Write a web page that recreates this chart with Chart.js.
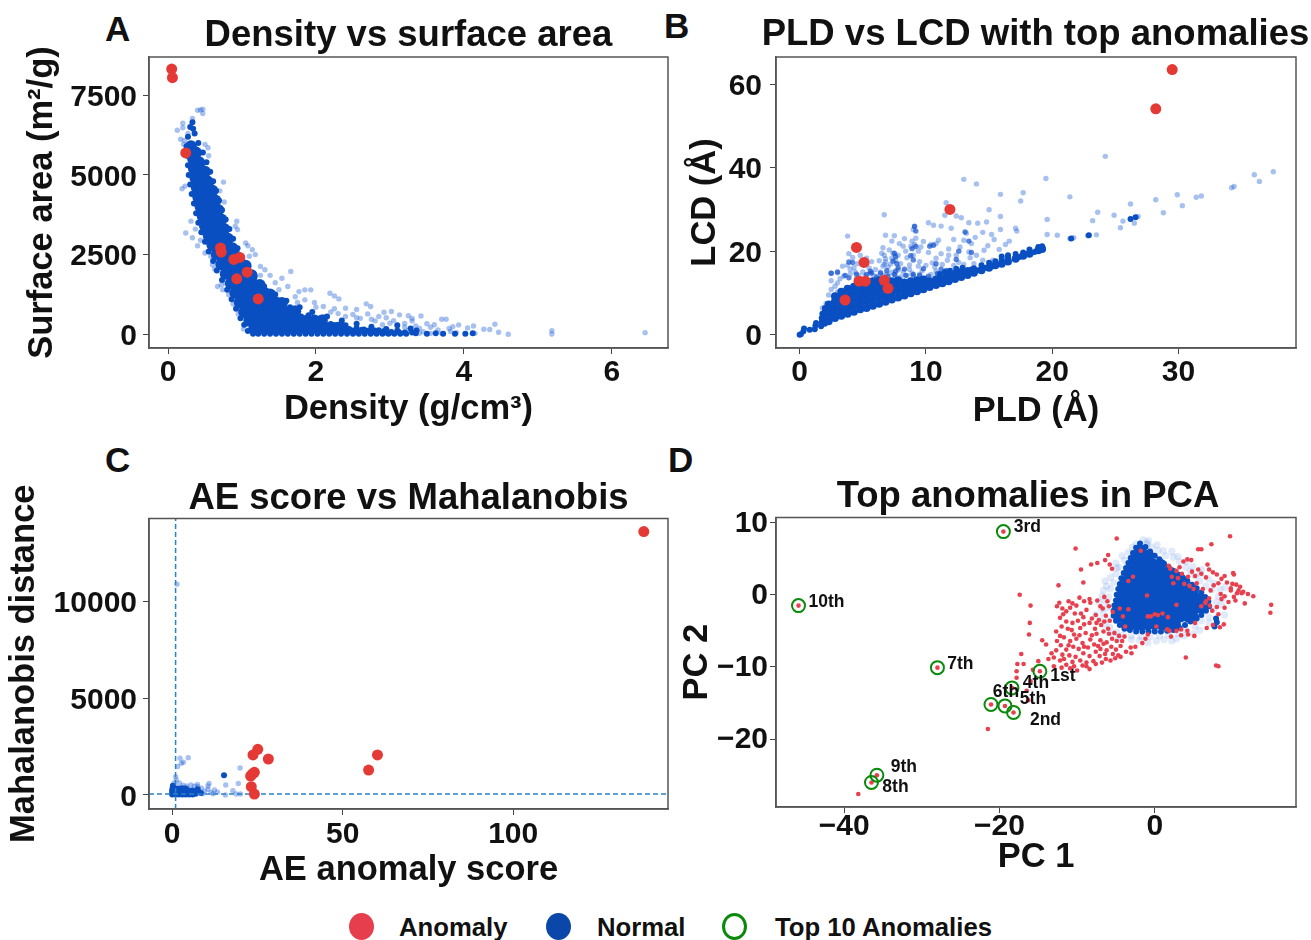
<!DOCTYPE html>
<html lang="en">
<head>
<meta charset="UTF-8">
<title>Anomaly detection panels</title>
<script src="https://cdn.jsdelivr.net/npm/chart.js"></script>
<style>
  html, body { margin: 0; padding: 0; background: #fff; overflow: hidden; }
  body { position: relative; width: 1311px; height: 940px; font-family: "Liberation Sans", Arial, sans-serif; font-weight: bold; color: #111; }
  canvas { position: absolute; }
  .letter { position: absolute; font-size: 35px; line-height: 35px; }
  .key { position: absolute; top: 913px; height: 26px; font-size: 25.7px; line-height: 28px; white-space: nowrap; }
  .dot { position: absolute; top: 913px; width: 25px; height: 27px; border-radius: 50%; box-sizing: border-box; }
</style>
</head>
<body>
<div class="letter" style="left:105px;top:11px">A</div>
<div class="letter" style="left:664px;top:8px">B</div>
<div class="letter" style="left:105px;top:442px">C</div>
<div class="letter" style="left:668px;top:442px">D</div>

<canvas id="panelA"></canvas>
<canvas id="panelB"></canvas>
<canvas id="panelC"></canvas>
<canvas id="panelD"></canvas>

<div class="dot" style="left:349px;background:#e63e4c"></div>
<div class="key" style="left:399px">Anomaly</div>
<div class="dot" style="left:546px;background:#0a47a8"></div>
<div class="key" style="left:597px">Normal</div>
<div class="dot" style="left:722px;border:3px solid #0a8a0a"></div>
<div class="key" style="left:775px">Top 10 Anomalies</div>

<script>
  // Panel A: density (g/cm3), surface area (m2/g)
  const anomalyA = [[.05,8320],[.06,8050],[.24,5690],[.71,2710],[.72,2580],[.89,2350],[.97,2410],[1.07,1950],[.93,1740],[1.22,1110]];
  const denseA = [
    [.31,5900],[.38,5700],[.34,5500],[.42,5400],[.35,5200],[.43,5200],[.5,5100],[.37,4900],[.45,4900],[.53,4800],
    [.39,4600],[.47,4600],[.55,4600],[.6,4500],[.41,4300],[.5,4300],[.58,4300],[.64,4200],[.44,4000],[.52,4000],[.6,4000],[.68,3900],
    [.47,3700],[.55,3700],[.63,3700],[.72,3600],[.5,3400],[.58,3400],[.67,3400],[.76,3300],[.55,3100],[.63,3100],[.72,3100],[.81,3000],
    [.6,2800],[.68,2800],[.77,2800],[.87,2700],[.66,2500],[.74,2500],[.83,2500],[.92,2450],[.72,2200],[.8,2200],[.9,2200],[.99,2200],[1.05,2150],
    [.78,1900],[.87,1900],[.97,1900],[1.07,1900],[1.13,1850],[.85,1600],[.94,1600],[1.04,1600],[1.14,1600],[1.24,1550],
    [.91,1300],[1,1300],[1.1,1300],[1.2,1300],[1.3,1300],[1.38,1250],[.97,1000],[1.06,1000],[1.16,1000],[1.26,1000],[1.36,1000],[1.46,1000],[1.54,980],
    [1.03,700],[1.12,700],[1.22,700],[1.32,700],[1.42,700],[1.52,700],[1.62,700],[1.72,720],[1.1,430],[1.18,430],[1.28,430],[1.38,430],[1.48,430],[1.58,430],[1.68,430],[1.78,430],[1.88,430],[1.98,430],[2.08,430],
    [1.17,200],[1.25,200],[1.35,200],[1.45,200],[1.55,200],[1.65,200],[1.75,200],[1.85,200],[1.95,200],[2.05,200],[2.15,200],[2.25,200],[2.35,200]
  ];
  const edgeA = [
    [.33,6650],[.34,6450],[.3,6500],[.27,6200],[.25,5900],[.26,5600],[.27,5300],[.28,5000],[.3,4700],[.32,4400],[.35,4100],[.38,3800],[.41,3500],[.45,3200],[.5,2900],[.55,2600],[.61,2300],[.66,2000],[.73,1700],[.8,1400],[.86,1100],[.92,800],[.98,500],[1.03,300],[1.08,100],
    [.36,6300],[.41,6000],[.47,5700],[.52,5400],[.57,5100],[.61,4800],[.65,4500],[.69,4200],[.73,3900],[.78,3600],[.83,3300],[.88,3000],[.94,2700],[1,2400],[1.08,2100],[1.17,1800],[1.3,1500],[1.45,1250],[1.6,1050],[1.78,850],[1.95,700],[2.15,560],[2.35,430],[2.55,330],[2.75,240],[2.95,170],[3.1,110],[3.3,60],
    [1.15,20],[1.22,20],[1.3,20],[1.38,20],[1.46,20],[1.54,20],[1.62,20],[1.7,20],[1.78,20],[1.86,20],[1.94,20],[2.02,20],[2.1,20],[2.18,20],[2.26,20],[2.34,20],[2.42,20],[2.5,20],[2.58,20],[2.66,20],[2.74,20],[2.82,20],[2.9,20],[2.98,20],[3.06,20],[3.14,20],[3.22,20],
    [1.15,80],[1.3,90],[1.45,90],[1.6,90],[1.75,90],[1.9,90],[2.05,90],[2.2,90],[2.35,90],[2.45,100],[2.55,70],[2.65,90],[2.75,60],[2.85,80],[2.95,60],[2.5,120],[2.62,140],[2.7,110],[2.8,120],[2.92,100],[3.02,70],[3.12,70],[3.2,60],
    [2.45,170],[2.55,200],[2.65,150],[2.75,170],[2.85,130],[2.2,320],[2.3,300],[2.4,280],[2.1,530],[1.9,600],[1.8,560],[1.65,850],[1.75,760],[3.35,30],[3.5,20],[3.62,30],[3.72,20],[3.88,20],[4.02,20],[4.12,30],[3.1,280],[3.28,180],[3.36,120]
  ];
  const sparseA = [
    [.44,7040],[.47,7060],[.47,6925],[.4,7030],[.33,6770],[.2,6620],[.2,6480],[.125,6400],[.27,6300],[.17,6120],[.22,6080],[.21,5960],[.5,5960],[.54,5855],[.48,5700],[.55,5600],[.19,4565],[.23,4650],[.75,4775],[.7,4500],[.76,4150],
    [.24,3180],[.33,3030],[.4,2780],[.31,3550],[.37,3300],[.44,2950],[.5,2550],[.6,2180],[.63,2050],[.67,1500],[.74,1395],[.78,1600],[.93,3550],[.91,3390],[.94,3285],[1.05,2865],[1.08,2780],[1.14,2655],[1.18,2500],
    [1.25,2130],[1.31,2025],[1.38,1850],[1.66,1970],[1.54,1760],[1.45,1620],[1.62,1500],[1.77,1340],[1.85,1395],[1.93,1395],[1.72,1180],[1.85,1080],[1.98,1000],[2.19,1290],[2.25,1200],[2.31,1110],
    [2.1,870],[2.25,800],[2.4,820],[2.55,780],[2.68,955],[2.74,870],[2.5,620],[2.7,640],[2.85,560],[3.02,715],[2.92,690],[3.13,610],[3.25,580],[3.42,577],[3.05,430],[3.2,340],[3.3,420],[3.35,260],
    [3.1,180],[3.25,120],[3.45,80],[3.55,220],[3.65,140],[3.7,472],[3.76,472],[3.6,300],[3.82,90],[3.9,50],[3.93,294],[3.85,240],[4.05,200],[4.13,262],[4.15,30],[4.27,157],[4.35,150],[4.42,315],[4.47,63],[4.6,0],
    [5.19,115],[5.19,10],[6.45,52],[2.9,300],[3,100],[3,30],[3.15,40],[3.4,30],[3.55,30],[3.7,30],[1.1,2450],[1.25,1850],[1.5,1400],[1.75,1000],[2,850],[2.3,650],[2.6,500],[2.8,420],[3,350],[3.2,220],[3.4,180],
    [3.5,330],[3.8,180],[3.3,500],[2.95,520],[2.75,470],[2.55,520],[2.4,560],[2.2,700],[1.1,130],[1.02,170],[1.08,300],[.95,640],[.88,950],[.82,1240],[.72,1550],[.58,2450]
  ];

  // Panel B: PLD, LCD (angstrom)
  const anomalyB = [[29.5,63.5],[28.2,54.1],[11.9,30],[4.5,20.9],[5.1,17.3],[4.7,12.8],[5.2,12.8],[6.7,13],[7,11.1],[3.6,8.3]];
  const denseB = [
    [2.3,3.2],[2.3,4.5],[2.3,6],[2.3,7.2],[2.8,4],[2.8,5],[2.8,6.5],[2.8,8],[2.8,9.2],[3.3,4.5],[3.3,6],[3.3,7.5],[3.3,9],[3.3,10.3],
    [3.8,5],[3.8,6.5],[3.8,8],[3.8,9.5],[3.8,11],[4.3,5.5],[4.3,7],[4.3,8.5],[4.3,10],[4.3,11.5],[4.8,6.1],[4.8,7.5],[4.8,9],[4.8,10.5],[4.8,12],
    [5.3,6.4],[5.3,8],[5.3,9.5],[5.3,11],[5.3,12.5],[5.8,6.9],[5.8,8.4],[5.8,10],[5.8,11.5],[5.8,12.8],[6.3,7.4],[6.3,9],[6.3,10.5],[6.3,12],[6.3,13],
    [6.8,7.9],[6.8,9.4],[6.8,11],[6.8,12.5],[7.3,8.4],[7.3,10],[7.3,11.5],[7.3,12.8],[7.8,8.9],[7.8,10.5],[7.8,12],[7.8,13],
    [8.3,9.4],[8.3,11],[8.3,12.5],[8.8,9.9],[8.8,11.4],[8.8,12.8],[9.3,10.4],[9.3,11.8],[9.3,13],[9.8,10.9],[9.8,12.2],[9.8,13.2],[10.3,11.4],[10.3,12.8],[10.8,11.9],[10.8,13.2],
    [11.3,12.3],[11.3,13.5],[11.8,12.8],[11.8,14],[12.3,13.3],[12.3,14.5],[12.8,13.8],[12.8,15],[13.3,14.3],[13.8,14.8],[14.4,15.4],[15,16],[15.5,16.6],[16,17],[16.5,17.5],[17.1,18.2],[17.7,18.9],[18.2,19.4],[18.9,20.2],[19.2,20.5]
  ];
  const edgeB = [
    [0,0],[.1,.1],[.3,.8],[.35,1.5],[.8,1.2],[1.2,1.3],[1.25,2.2],[1.3,2.8],[1.7,2],[1.75,3],[1.75,4],[1.8,5],[2,2.6],[2,3.6],[2,4.6],[2,5.6],[2,6.4],[13.3,15.5],[13.6,15.6],[13.8,15.9],[14.1,15.4],[14.4,16.6],[14.7,16],[15,17.2],[15.3,16.4],[15.5,17.6],[16,18],[16,18.7],[16.5,18.4],[16.5,19],
    [17.1,19.3],[17.4,18.6],[17.7,19.7],[18.2,20.4],[18.6,19.8],[18.9,21],[19.2,21.2],[21.5,23],[22.9,23.8],[26.2,27.7],[26.6,28.1],[11.1,14.5],[11.5,15],[11.9,15.3],[12.4,15.8],[12.9,16]
  ];
  const midB = [
    [7.5,19.5],[7.6,18.7],[7.4,17.6],[7.7,17],[7.8,16],[7.6,15.2],[7.5,14.4],[9.1,25.9],[9.2,24.8],[8.9,20.6],[9.2,21.1],[8.8,18.9],[9,17.9],[10.3,21.2],[10.6,21.4],[3.9,17.4],[4.2,17.3],[2.5,14.7],[3,15],[3.6,14.2],[3.9,13.6],
    [5.3,14.4],[5.7,14.8],[6.4,14.7],[6.1,13.8],[7,14],[8.4,14.2],[9,14.4],[9.5,14.2],[10.2,14],[10.9,14.6],[11.6,15.4],[13.1,24.6],[13.4,22.4],[13.6,19.7],[12.6,20],[12.4,18],[10.8,17],[11.2,15.7],[9.8,15.8],[8.3,15.7],[6.9,15.3],[5.6,15.2],[4.5,14.5]
  ];
  const sparseB = [
    [24.2,42.7],[37.5,39],[36,38.3],[36.4,36.7],[34.4,35.5],[34.2,35.2],[31.8,33.2],[31.4,32.9],[29.9,33.5],[30.3,30.9],[28.2,32.3],[28.8,29.2],[26.2,31.3],[23.6,29.3],[24.9,28.6],
    [23.2,27.3],[25.6,27.2],[25.4,25.6],[26.5,26.7],[26.8,28.3],[22.8,23.7],[23.5,23.9],[21.7,23.2],[21.4,23],[20.4,23.8],[19.6,24],[19.6,27.6],[21.4,33],[19.5,37.4],[17.7,34],[17.5,32],
    [15.9,33.6],[14,36.1],[13,37.2],[15,29.9],[15.9,28.3],[6.7,28.7],[3.8,23.6],[11.6,31.6],[11.5,28.6],[12.4,28.4],[12.8,28],[13.4,26.8],[14.1,26.7],[14.8,27],[17.1,25.5],[17.2,24.8],[15.9,25.2],
    [15.2,24],[14.5,24.5],[13.2,24.3],[13,22.6],[12,25.5],[11.2,26],[10.6,26.2],[10.2,26.8],[9.1,26],[9,25.2],[8.3,23],[9.2,23.1],[9.8,22.3],[10.4,21.6],[11,22.6],[12.2,22.8],[13.6,21.8],
    [16.3,21.6],[16.6,22.4],[15.8,20.4],[14.6,20.2],[13.4,19.8],[11.8,20.5],[11.2,19.4],[10.2,19.7],[9.4,20],[8.8,21.2],[7.9,21.8],[7.3,22.4],[6.8,23.8],[7.5,23.7],[7.1,20.3],[6.6,20.8],
    [6.5,19.5],[7.8,19],[7.3,18.3],[6.8,18.2],[6.3,17.7],[8.5,18.4],[9.5,17.5],[10.5,17.2],[11.3,16.8],[12.6,17.3],[13.5,18.4],[14.5,17.8],[15.3,17.8],[4.8,19],[3.9,19.4],[3.4,16.4],[3.8,16.6],
    [4.3,16.1],[5.5,16],[6,15.6],[7,16.2],[7.8,15.5],[8.7,15.6],[9.7,15.3],[10.8,15.2],[12,15.4],[2.5,14.7],[3,14.8],[2.5,12.9],[2.8,11.6],[3.5,14],[4,14.5],[4.5,13.6],[5.6,14.6],[6.9,14.5],
    [8,13.8],[9,14],[10,13.6],[11,14],[2.3,9.5],[2.5,10.8],[3,10.2],[2.1,7.5],[1.8,6.4],[8.4,20],[9,19],[10.8,18.3],[12.4,19],[5,15],[5.7,17.5],[6.6,16.4],[8,17],[8.7,16.7],
    [6.7,19],[6.8,17.4],[7.2,16.9],[7.4,19.5],[7.6,17.8],[6.4,15],[6.6,14.2],[7.3,14.9],[8.2,15],[8.9,14.7],[9.4,16.4],[10,16.6],[10.7,16.2],[11.7,17.8],[12.2,16.6],[13,16.8],[13.8,17],[9.1,21.6],[9.6,21],[8.9,22.4],[8.2,21.2],
    [6.7,16.8],[5.9,14.1],[4.7,14.1],[4,15.6],[3.2,13.4],[3,12.4],[4.4,15],[5.2,14],[7.6,14.1],[8.5,14.2],[9.5,14.5],[10.4,14.4],[11.4,14.8],[5.3,18.3],[4.6,17],[4.2,18.5],[10.8,21.8],[11.8,19],[12.7,21],[14,19],[14.9,21.3],[15.4,22.8],[13.9,23.3]
  ];

  // Panel C: AE anomaly score, Mahalanobis distance
  const anomalyC = [[138.3,13620],[60.2,2070],[57.6,1290],[25.1,2360],[23.7,2070],[28.2,1860],[24.1,1170],[23.5,1080],[23,980],[23.2,430],[24.1,50]];
  const denseC = [
    [0,20],[0,120],[0,230],[.1,340],[.2,480],[1,20],[1,120],[1,230],[1,350],[2,20],[2,120],[2,230],[2,340],[3,20],[3,120],[3,230],[3,350],
    [4,20],[4,120],[4,230],[4,330],[5,20],[5,120],[5,230],[6,20],[6,120],[6,230],[6.9,60],[7,180],[7.5,300],[8.4,100],[15.2,1017]
  ];
  const sparseC = [
    [1.4,10900],[2.3,1900],[4.7,1930],[3.3,1690],[2.7,1640],[1.6,1470],[1,950],[19.9,1397],[15.7,517],[19.4,600],[17.8,224],[15.6,0],[18.8,52],[20,52],[12.4,259],[13.3,150],[10.8,600],
    [10.5,465],[8.6,345],[7.4,550],[5.5,517],[3.2,500],[4.3,470],[6.5,450],[7.5,430],[9.5,200],[10.5,300],[11.4,130],[12,60],[9,60],[2.1,620],[.5,610],[1.2,780]
  ];
  const thresholdScore = [[1,-724],[1,14293]];
  const thresholdDist = [[-6.8,50],[145.4,50]];

  // Panel D: PC 1, PC 2
  const top10 = [[-14.8,-10.6],[-18.2,-16.3],[-19.5,8.75],[-18.4,-12.9],[-19.3,-15.4],[-21.1,-15.2],[-28,-10.1],[-36.5,-26],[-35.8,-25],[-45.9,-1.5]];
  const top10Labels = ['1st','2nd','3rd','4th','5th','6th','7th','8th','9th','10th'];
  const anomalyD = [
    [-4.9,7.8],[9.7,8.1],[-10.2,6.4],[7.3,7],[6,6.3],[5.6,6.3],[-1.8,6.1],[-9.5,3.5],[-12.4,1.3],[-17.4,0],[-16,-1.5],[-16.1,-3.9],[-16.2,-5.5],[-14.5,-6.3],[-14,-6.9],[-17.2,-8.2],
    [-17.7,-9.6],[-16.9,-9.6],[-17.8,-10.6],[-17.8,-11.5],[-16.5,-13.3],[-21.5,-18.6],[-38.2,-27.6],[4,-8.7],[7.9,-9.8],[8.2,-9.9],[15,-1.4],[14.9,-2.5],[12.7,-.2],[12,.1],[11.6,-1.2],
    [-14.8,-10.6],[-18.2,-16.3],[-19.5,8.75],[-18.4,-12.9],[-19.3,-15.4],[-21.1,-15.2],[-28,-10.1],[-36.5,-26],[-35.8,-25],[-45.9,-1.5],
    [-7.4,4.4],[-6.4,4.8],[-6,5.5],[-5.8,4.2],[-5.5,3.6],[-8.2,4.2],[-9.2,1.7],[-12.3,-1.1],[-11.9,-1.9],[-11.8,-2.7],[-12.2,-3.2],[-11.1,-.9],[-10.6,-1.2],[-9.7,-.4],[-9.1,-.9],[-8.4,-.6],[-10.3,-2.6],[-9.2,-3.1],
    [-9.9,-3.6],[-8.8,-2.1],[-8.1,-3.3],[-7.6,-2.8],[-8.4,-3.9],[-7.2,-3.5],[-6.7,-1.9],[-6.1,-.9],[-6.5,-.3],[-5.9,-1.6],[-5.4,-2.4],[-6.3,-2.9],[-5.8,-3.6],[-6.9,-4.2],[-7.7,-4.7],[-8.9,-5.3],[-9.6,-4.6],
    [-10.4,-5.5],[-11.2,-4.7],[-11.7,-5.9],[-10.9,-6.4],[-10.1,-6.1],[-9.3,-6.7],[-8.3,-6.2],[-7.5,-5.4],[-6.6,-5.1],[-6,-4.7],[-5.2,-5.3],[-4.6,-5.7],[-5.5,-6.1],[-6.2,-6.6],[-7,-6.3],[-7.8,-6.9],[-8.6,-7.3],
    [-9.8,-7.5],[-10.5,-7.2],[-11.4,-7.6],[-12.1,-7],[-12.6,-6.4],[-11.9,-8.3],[-11,-8.4],[-10.2,-8.6],[-9.2,-8.1],[-8.4,-8.5],[-7.6,-7.9],[-7,-7.5],[-6.2,-7.7],[-5.6,-7.2],[-5,-7.6],[-4.4,-7.1],[-3.7,-7.9],
    [-4.7,-8.4],[-5.4,-8.2],[-6.3,-8.9],[-7.1,-8.5],[-7.9,-9.2],[-8.8,-9.4],[-9.6,-9.1],[-10.6,-9.3],[-11.4,-9.7],[-12.2,-9.1],[-13,-8.7],[-13.7,-8.9],[-13,-9.9],[-12,-10.1],[-10.9,-10.2],[-10,-10.5],
    [-8.4,-10.3],[-8.8,-9.9],[-6.8,-9.4],[-5.7,-9.1],[-4.4,-8.6],[-15,-9.2],[-15.7,-10.4],[-16,-12],[-16.3,-14.6],[-3,-8.1],[-3.1,-7.3],[-2.5,-7.2],[-1.6,-6.7],[-1.2,-6.1],[-.9,-5.5],
    [-3.8,-4.4],[-4.1,-3],[-4.5,-1.9],[-3.4,-2],[-2.8,2.5],[-3.4,1.9],[-1,-.1],[-.9,-3],[-.5,-3],[0,-2.7],[.4,-2.8],[1,-2.6],[1.7,-3.1],[2.8,-1.4],[2.4,1.6],[3,2.3],[2.2,2.5],[.2,-4.4],[1.6,-4.8],[1.9,-5],
    [2.8,-5],[3.4,-4.8],[4.2,-5],[4.3,-5.5],[5.2,-3.9],[6.7,-4.6],[7.5,-4.2],[8.4,-4.5],[8.9,-4.1],[3.4,-5.6],[5.1,-5.7],[2.1,-5.8],
    [1.8,4],[2,3.6],[2.8,3.3],[3.2,3.8],[3.7,4.6],[4.2,4.9],[4.7,4.8],[5.6,3.5],[4.8,3.2],[3.5,2.9],[4.3,2.5],[5.2,2.6],[6,2.9],[6.6,2.4],[7,3.5],[6.8,4.2],[7.5,3.1],[8,2.8],[8.6,2.2],[9,2.6],[8.2,1.6],
    [9.3,1.7],[9.8,.9],[10.2,-.3],[10.4,-.8],[10.6,.2],[10.5,1.4],[10.2,2.8],[10.1,3],[7.6,1.3],[7.2,.6],[6.2,.8],[6.6,-.9],[6,-1.6],[6.5,-1.1],[7.1,-1.5],[7.4,-2.2],[8,-1.7],[8.6,-.6],[9,-.2],[9.5,-1],
    [9,-1.8],[8.2,-2.7],[8.5,.1],[10.8,.6],[11,1.1],[11.2,.2],[11.4,.4],[9.8,.6],[10,1.5],[7,-.5],[5.4,1.6],[5,.8],[4.5,1.2],[3.8,1.5],
    [-12.6,-1.6],[-11.4,-2.3],[-10.9,-1.8],[-10.1,-1.5],[-9.5,-2.6],[-8.3,-1.1],[-7.4,-.8],[-7,-1.6],[-12,-4.4],[-12.7,-5.1],[-11.4,-3.7],[-10.6,-3.9],[-9.1,-4.1],[-7.5,-3.9],[-6.5,-3.7],[-8.1,-5.6],[-9.7,-5.6],
    [-10.7,-4.9],[-12.2,-5.7],[-11.1,-7],[-9.1,-7.2],[-7.3,-7.1],[-6.6,-6.8],[-5.9,-5.4],[-4.9,-6.4],[-4.2,-6.4],[-3.9,-5.8],[-5.1,-8.8],[-6.4,-8.2],[-7.6,-9.6],[-9.3,-9.8],[-10.4,-9.9],[-11.7,-8.9],[-12.7,-7.7],[-13.3,-8.1]
  ];
  const denseD = [
    [-1.8,6.1],[-2.3,5.4],[-1.8,5.4],[-.8,5.4],[-2.7,4.2],[-2.2,4.2],[-1.2,4.2],[-.2,4.2],[.7,4.2],[-3.3,3],[-2.7,3],[-1.7,3],[-.7,3],[.3,3],[1.3,3],[2.1,3],
    [-3.7,1.8],[-3,1.8],[-2,1.8],[-1,1.8],[0,1.8],[1,1.8],[2,1.8],[3,1.8],[3.6,1.8],[-4.05,.6],[-3.3,.6],[-2.3,.6],[-1.3,.6],[-.3,.6],[.7,.6],[1.7,.6],[2.7,.6],[3.7,.6],[4.6,.6],[4.9,.6],
    [-4.25,-.6],[-3.7,-.6],[-2.7,-.6],[-1.7,-.6],[-.7,-.6],[.3,-.6],[1.3,-.6],[2.3,-.6],[3.3,-.6],[4.3,-.6],[5.3,-.6],[5.8,-.6],
    [-4.5,-1.8],[-3.8,-1.8],[-2.8,-1.8],[-1.8,-1.8],[-.8,-1.8],[.2,-1.8],[1.2,-1.8],[2.2,-1.8],[3.2,-1.8],[4.2,-1.8],[5.2,-1.8],[6,-1.8],
    [-4.5,-3],[-3.7,-3],[-2.7,-3],[-1.7,-3],[-.7,-3],[.3,-3],[1.3,-3],[2.3,-3],[3.3,-3],[4.3,-3],[4.9,-3],[-3.6,-4.1],[-3,-4.1],[-2,-4.1],[-1,-4.1],[0,-4.1],[1,-4.1],[2,-4.1],[2.6,-4.1]
  ];
  const edgeD = [
    [-1.9,7.1],[-1.2,6.6],[-.6,6],[0,5.4],[.6,4.9],[1.2,4.3],[1.8,3.8],[2.4,3.3],[3,2.8],[3.6,2.4],[4.2,1.9],[4.8,1.4],[5.4,.9],[6,.3],[6.5,-.3],[6.9,-.9],[7,-1.6],[6.6,-2.2],[6,-2.8],[5.4,-3.3],[4.6,-3.7],[3.9,-4.2],[3.2,-4.6],
    [2.4,-4.9],[1.6,-5],[.8,-5.1],[0,-5.1],[-.8,-5.1],[-1.6,-5.1],[-2.4,-5.1],[-3.2,-4.9],[-3.9,-4.7],[-4.5,-4.2],[-5,-3.6],[-5.3,-2.9],[-5.3,-2.2],[-5.2,-1.5],[-5,-.8],[-4.9,0],[-4.7,.8],[-4.5,1.5],[-4.3,2.3],[-4,3],[-3.7,3.7],[-3.4,4.4],[-3.1,5.1],[-2.8,5.8],[-2.4,6.5],
    [7.9,-3.3],[8,-3.8],[7.7,-4.4]
  ];
  const haloD = [
    [-1.5,7.6],[-1,7.2],[-2.4,7],[-3.4,5.9],[-3.9,4.8],[-4.6,3.8],[-5,2.9],[-5.3,1.7],[-5.7,.8],[-5.9,-.3],[-6.4,-.9],[-6.1,-1.8],[-6.6,-2.6],[-6,-3.5],[-5.8,-4.5],[-4.9,-5.2],[-4.1,-5.6],[-3,-5.7],
    [-1.8,-5.8],[-.6,-5.8],[.6,-5.7],[1.8,-5.6],[3,-5.4],[4,-4.8],[5.2,-4.4],[6,-3.6],[7,-3.1],[7.6,-2],[7.9,-1],[8.2,-.2],[7.4,.7],[6.6,1.2],[5.8,1.9],[5.2,2.6],[4.6,3.2],[4,3.8],[3.2,4.6],[2.4,5.2],[1.4,5.4],[.4,6.1],
    [-.4,6.6],[-1,6.9],[-7.2,-1],[-7,-3.5],[-6.2,1.2],[-5,4.4],[3,5.3],[6,3.5],[9,1],[9,-2.8],[2.8,-6.1],[.2,-6.4],[-3,-6.2],[5,-5.4],[-6.8,-.2],[-6.6,.6],[-6.9,-1.9],[-7.6,-2.7],[-6.5,-4.2],[-5.4,-5.3],[-4.7,-6],
    [-2,-6.3],[-.9,-6.6],[1.2,-6.2],[2.2,-6.4],[3.8,-5.7],[5.8,-4.9],[7,-3.9],[8.6,-1.4],[8.8,-.5],[8.4,.7],[7.6,1.6],[6.9,2.2],[5.9,2.9],[4.9,3.9],[4.1,4.6],[2.2,6],[1.1,6.1],[.3,6.9],[-.8,7.5],[-2.9,6.6],[-4.2,5.4],[-4.9,3.7],[-5.7,2.4],[-6.4,1.9]
  ];

  const tickA = { x: [0,2,4,6], y: [0,2500,5000,7500] };
  const tickB = { x: [0,10,20,30], y: [0,20,40,60] };
  const tickC = { x: [0,50,100], y: [0,5000,10000] };
  const tickD = { x: [-40,-20,0], y: [-20,-10,0,10] };

  const RED = '#e53935';
  const BLUE = '#0a4fc2';
  const FAINT = 'rgba(20,90,215,0.38)';
  const FONT = '"Liberation Sans", Arial, sans-serif';

  function dots(data, color, radius) {
    return { data: data, backgroundColor: color, pointRadius: radius, borderWidth: 0, pointHoverRadius: radius };
  }

  function scale(title, ticks, min, max, size, titlePad, tickPad, labelShift) {
    const horizontal = titlePad !== 0;
    return {
      min: min, max: max,
      title: { display: true, text: title, color: '#111', padding: titlePad, font: { family: FONT, weight: 'bold', size: 34.5 } },
      ticks: {
        color: '#111', autoSkip: false, maxRotation: 0, padding: tickPad,
        labelOffset: labelShift || 0,
        font: { family: FONT, weight: 'bold', size: 30 },
        callback: v => String(v).replace('-', '\u2212')
      },
      grid: { drawOnChartArea: false, drawTicks: true, tickLength: 6, color: '#444' },
      border: { color: '#555', width: 1.5 },
      afterBuildTicks: axis => { axis.ticks = ticks.map(v => ({ value: v })); },
      afterFit: axis => {
        if (horizontal) axis.height = size; else axis.width = size;
      }
    };
  }

  // top and right edges of the plot box
  const frame = {
    id: 'frame',
    afterDraw(chart) {
      const a = chart.chartArea, c = chart.ctx;
      c.save();
      c.strokeStyle = '#555';
      c.lineWidth = 1.5;
      c.strokeRect(a.left, a.top, a.width, a.height);
      c.restore();
    }
  };

  // rank labels beside the green rings in panel D
  const labelOffsets = [[23,5],[32,8],[24,-4],[24,-5],[28,-7],[15,-12],[23,-3],[24,5],[27,-8],[28,-3]];
  const rankLabels = {
    id: 'rankLabels',
    afterDatasetsDraw(chart) {
      const pts = chart.getDatasetMeta(0).data, c = chart.ctx;
      c.save();
      c.font = 'bold 17.5px ' + FONT;
      c.fillStyle = '#111';
      c.textAlign = 'center';
      c.textBaseline = 'middle';
      top10Labels.forEach((t, i) => c.fillText(t, pts[i].x + labelOffsets[i][0], pts[i].y + labelOffsets[i][1]));
      c.restore();
    }
  };

  // panel D's title sits left of its box, panel B's is wider than its box
  const moveTitle = (left, right) => ({
    id: 'moveTitle',
    afterLayout(chart) {
      chart.titleBlock.left += left;
      chart.titleBlock.right += right;
    }
  });

  function makePanel(id, box, datasets, xScale, yScale, title, titlePad, plugins) {
    const el = document.getElementById(id);
    el.style.left = box.left + 'px';
    el.style.top = box.top + 'px';
    el.width = box.width;
    el.height = box.height;
    el.style.width = box.width + 'px';
    el.style.height = box.height + 'px';
    new Chart(el, {
      type: 'scatter',
      data: { datasets: datasets },
      options: {
        responsive: false,
        animation: false,
        events: [],
        layout: { padding: { left: box.padLeft, right: box.padRight } },
        plugins: {
          legend: { display: false },
          tooltip: { enabled: false },
          title: {
            display: true, text: title, color: '#111', fullSize: false,
            padding: titlePad, font: { family: FONT, weight: 'bold', size: 36.5, lineHeight: 1 }
          }
        },
        scales: { x: xScale, y: yScale }
      },
      plugins: [frame].concat(plugins || [])
    });
  }

  makePanel('panelA', { left: 0, top: 0, width: 690, height: 438, padLeft: 22, padRight: 22 },
    [dots(anomalyA, RED, 5.5), dots(denseA, BLUE, 6), dots(edgeA, BLUE, 3), dots(sparseA, FAINT, 2.7)],
    scale('Density (g/cm³)', tickA.x, -0.257, 6.76, 90, { top: 8, bottom: 8 }, 1),
    scale('Surface area (m²/g)', tickA.y, -430, 8700, 127, 0, 6, 2.5),
    'Density vs surface area', { top: 18, bottom: 2.5 });

  makePanel('panelB', { left: 680, top: 0, width: 631, height: 438, padLeft: 5, padRight: 15 },
    [dots(anomalyB, RED, 5.5), dots(denseB, BLUE, 4), dots(edgeB, BLUE, 3), dots(midB, 'rgba(15,80,205,0.7)', 2.7), dots(sparseB, FAINT, 2.7)],
    scale('PLD (Å)', tickB.x, -1.87, 39.3, 90, { top: 6, bottom: 6 }, 1),
    scale('LCD (Å)', tickB.y, -3.2, 66.5, 91, 0, 8, 2.5),
    'PLD vs LCD with top anomalies', { top: 17, bottom: 3.5 }, [moveTitle(-16, 15)]);

  makePanel('panelC', { left: 0, top: 440, width: 690, height: 459, padLeft: 4, padRight: 22 },
    [dots(anomalyC, RED, 5.5),
     { data: thresholdScore, showLine: true, borderColor: '#2a82c4', borderWidth: 1.5, borderDash: [5, 3], pointRadius: 0 },
     { data: thresholdDist, showLine: true, borderColor: '#2a82c4', borderWidth: 1.5, borderDash: [5, 3], pointRadius: 0 },
     dots(denseC, BLUE, 3), dots(sparseC, FAINT, 2.7)],
    scale('AE anomaly score', tickC.x, -6.8, 145.4, 90, { top: 8, bottom: 8 }, 2),
    scale('Mahalanobis distance', tickC.y, -724, 14293, 145, 0, 6, 2.5),
    'AE score vs Mahalanobis', { top: 41, bottom: 1 });

  makePanel('panelD', { left: 670, top: 440, width: 641, height: 457, padLeft: 7, padRight: 15 },
    [{ data: top10, backgroundColor: 'transparent', borderColor: '#0a8a0a', borderWidth: 2, pointRadius: 6.5 },
     dots(anomalyD, '#e8404e', 2.3), dots(denseD, BLUE, 6), dots(edgeD, BLUE, 3), dots(haloD, 'rgba(20,90,215,0.13)', 3.6)],
    scale('PC 1', tickD.x, -48.8, 18.2, 90, { top: 19, bottom: 19 }, -4),
    scale('PC 2', tickD.y, -29.4, 10.7, 99, 0, 2, 1),
    'Top anomalies in PCA', { top: 39, bottom: 2 }, [moveTitle(-8, -8), rankLabels]);
</script>
</body>
</html>
